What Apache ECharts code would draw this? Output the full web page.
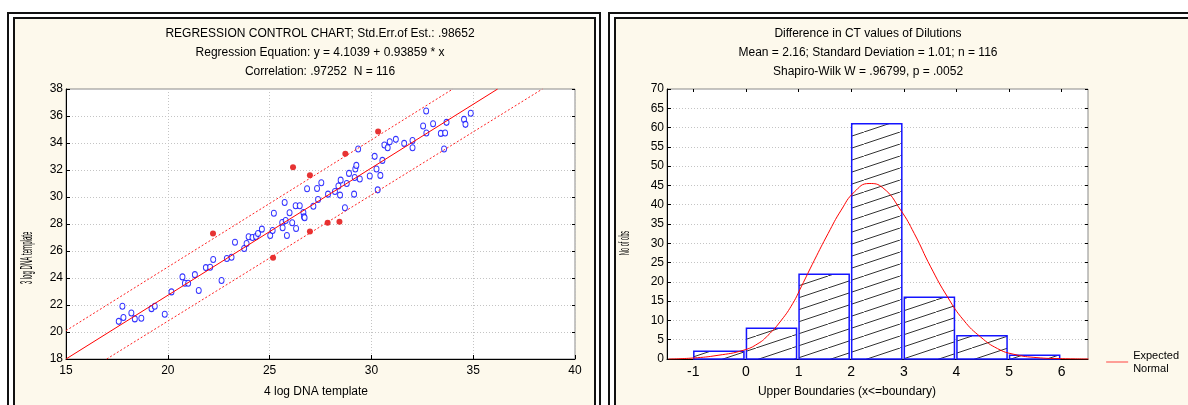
<!DOCTYPE html>
<html>
<head>
<meta charset="utf-8">
<script src="https://cdn.jsdelivr.net/npm/echarts@6/dist/echarts.min.js"></script>
<style>
  html, body { margin: 0; padding: 0; background: #fff; }
  #chart { width: 1188px; height: 405px; }
</style>
</head>
<body>
<div id="chart"></div>
<script>
// regression control chart: observed pairs (4 log template, 3 log template)
const blueObs = [
  [17.59, 20.79], [17.77, 21.91], [17.82, 21.07], [18.21, 21.41], [18.38, 20.97],
  [18.70, 21.02], [19.20, 21.73], [19.36, 21.91], [19.85, 21.31], [20.18, 22.97],
  [20.72, 24.08], [20.84, 23.61], [21.00, 23.61], [21.33, 24.25], [21.52, 23.07],
  [21.87, 24.77], [22.08, 24.80], [22.23, 25.37], [22.64, 23.81], [22.90, 25.44],
  [23.13, 25.54], [23.30, 26.65], [23.75, 26.18], [23.87, 26.55], [23.97, 27.05],
  [24.16, 27.00], [24.33, 27.07], [24.43, 27.30], [24.62, 27.62], [25.03, 27.15],
  [25.15, 27.52], [25.21, 28.80], [25.62, 28.11], [25.64, 27.72], [25.74, 29.59],
  [25.79, 28.26], [25.85, 27.15], [25.98, 28.83], [26.11, 28.09], [26.28, 29.35],
  [26.30, 27.67], [26.48, 29.35], [26.66, 28.85], [26.69, 28.53], [26.72, 28.46],
  [26.84, 30.61], [27.15, 29.32], [27.33, 30.63], [27.38, 29.82], [27.54, 31.05],
  [27.87, 30.21], [28.21, 30.41], [28.38, 30.81], [28.46, 30.14], [28.49, 31.25],
  [28.70, 29.20], [28.79, 31.00], [28.90, 31.75], [29.15, 30.21], [29.18, 31.45],
  [29.21, 32.07], [29.26, 32.34], [29.35, 33.55], [29.43, 31.33], [29.92, 31.55],
  [30.16, 33.01], [30.25, 32.07], [30.31, 30.53], [30.44, 31.60], [30.54, 32.71],
  [30.64, 33.85], [30.80, 33.65], [30.90, 34.09], [31.20, 34.27], [31.61, 33.97],
  [32.02, 34.19], [32.02, 33.65], [32.54, 35.26], [32.69, 36.37], [32.70, 34.74],
  [33.03, 35.43], [33.41, 34.71], [33.57, 33.55], [33.62, 34.74], [33.69, 35.53],
  [34.55, 35.75], [34.62, 35.38], [34.88, 36.20]
];
// points outside the control limits
const redObs = [
  [22.22, 27.30], [25.17, 25.50], [26.15, 32.21], [26.98, 31.62], [28.72, 33.20],
  [30.33, 34.86], [26.98, 27.44], [27.85, 28.09], [28.43, 28.16]
];
const regLine = [[15, 18.0], [36.2, 38]];
const upperLimit = [[15, 20.1], [34.0, 38]];
const lowerLimit = [[17.0, 18], [38.4, 38]];

// histogram of CT differences
const binStarts = [-1, 0, 1, 2, 3, 4, 5];
const binCounts = [2, 8, 22, 61, 16, 6, 1];
const boundaryTicks = [-1, 0, 1, 2, 3, 4, 5, 6];
const expectedNormal = [
  [-1.47, 0], [-1.0, 0.26], [-0.53, 0.96], [-0.05, 2.26], [0.23, 4.0], [0.42, 6.15],
  [0.67, 10.0], [0.89, 14.4], [1.05, 18.7], [1.30, 25.6], [1.56, 32.5], [1.81, 38.6],
  [2.06, 43.3], [2.34, 45.5], [2.60, 44.4], [2.94, 38.6], [3.20, 32.5], [3.51, 23.9],
  [3.83, 16.1], [4.14, 10.0], [4.46, 5.7], [4.78, 2.7], [5.09, 1.22], [5.53, 0.36],
  [5.97, 0.1], [6.51, 0]
];

const leftTitle = 'REGRESSION CONTROL CHART; Std.Err.of Est.: .98652\nRegression Equation: y = 4.1039 + 0.93859 * x\nCorrelation: .97252  N = 116';
const rightTitle = 'Difference in CT values of Dilutions\nMean = 2.16; Standard Deviation = 1.01; n = 116\nShapiro-Wilk W = .96799, p = .0052';

const FONT = "'Liberation Sans', Arial, sans-serif";
const cream = '#fdf9ec';

// hatch pattern for the bars
const hatch = document.createElement('canvas');
hatch.width = 36;
hatch.height = 12;
const hctx = hatch.getContext('2d');
hctx.fillStyle = '#fff';
hctx.fillRect(0, 0, 36, 12);
hctx.strokeStyle = '#333';
hctx.lineWidth = 1;
hctx.beginPath();
hctx.moveTo(-36, 24); hctx.lineTo(72, -12);
hctx.stroke();

const chart = echarts.init(document.getElementById('chart'));

const tickLabel = { color: '#000', fontSize: 12, fontFamily: FONT };
const dotted = { show: true, lineStyle: { color: '#c4c4c4', type: [1, 2], width: 1 } };
const blackLine = { show: true, onZero: false, lineStyle: { color: '#000' } };

function frame(x, y, w, h) {
  return [
    { type: 'rect', z: -10, shape: { x: x, y: y, width: w, height: h },
      style: { fill: '#fff', stroke: '#111', lineWidth: 2 } },
    { type: 'rect', z: -9, shape: { x: x + 6, y: y + 5, width: w - 11, height: h - 11 },
      style: { fill: cream, stroke: '#111', lineWidth: 2 } }
  ];
}

chart.setOption({
  animation: false,
  backgroundColor: '#fff',
  graphic: [
    ...frame(8, 13, 592, 400),
    ...frame(609, 13, 620, 400),
    { type: 'text', x: 320, y: 24, style: { text: leftTitle, align: 'center', verticalAlign: 'top',
      lineHeight: 19, fontSize: 12, fontFamily: FONT, fill: '#000' } },
    { type: 'text', x: 868, y: 24, style: { text: rightTitle, align: 'center', verticalAlign: 'top',
      lineHeight: 19, fontSize: 12, fontFamily: FONT, fill: '#000' } },
    { type: 'text', x: 316, y: 386, style: { text: '4 log DNA template', align: 'center', verticalAlign: 'top',
      fontSize: 12, fontFamily: FONT, fill: '#000' } },
    { type: 'text', x: 847, y: 386, style: { text: 'Upper Boundaries (x<=boundary)', align: 'center', verticalAlign: 'top',
      fontSize: 12, fontFamily: FONT, fill: '#000' } },
    { type: 'text', x: 28, y: 258, rotation: Math.PI / 2, scaleX: 0.38,
      style: { text: '3 log DNA template', align: 'center', verticalAlign: 'middle',
      fontSize: 16, fontFamily: FONT, fill: '#000' } },
    { type: 'text', x: 625, y: 243, rotation: Math.PI / 2, scaleX: 0.38,
      style: { text: 'No of obs', align: 'center', verticalAlign: 'middle',
      fontSize: 15, fontFamily: FONT, fill: '#000' } }
  ],
  legend: {
    right: 4, top: 344, orient: 'vertical',
    data: [{ name: 'Expected Normal', icon: 'path://M0,0H30V1H0Z' }],
    itemWidth: 22, itemHeight: 1, itemGap: 4,
    formatter: () => 'Expected\nNormal',
    textStyle: { color: '#000', fontSize: 11, fontFamily: FONT, lineHeight: 13 }
  },
  grid: [
    { left: 66, top: 89, width: 509, height: 270, show: true, backgroundColor: '#fff',
      borderColor: '#8a8a8a', borderWidth: 1, outerBoundsMode: 'none' },
    { left: 667, top: 89, width: 421, height: 270, show: true, backgroundColor: '#fff',
      borderColor: '#8a8a8a', borderWidth: 1, outerBoundsMode: 'none' }
  ],
  xAxis: [
    { type: 'value', gridIndex: 0, min: 15, max: 40, interval: 5,
      axisLine: blackLine,
      axisTick: { show: true, inside: true, length: 4, lineStyle: { color: '#000' } },
      axisLabel: { ...tickLabel, margin: 6 }, splitLine: dotted },
    { type: 'value', gridIndex: 1, min: -1.5, max: 6.5, interval: 0.5,
      axisLine: blackLine,
      axisTick: { show: false },
      axisLabel: { ...tickLabel, fontSize: 14, margin: 6, customValues: boundaryTicks,
        formatter: v => (Number.isInteger(v) ? String(v) : '') },
      splitLine: { show: false } },
    { type: 'value', gridIndex: 1, position: 'top', min: -1.5, max: 6.5, interval: 0.5,
      axisLine: { show: false, onZero: false }, axisLabel: { show: false }, splitLine: { show: false },
      axisTick: { show: true, inside: true, length: 3, customValues: boundaryTicks,
        lineStyle: { color: '#000' } } }
  ],
  yAxis: [
    { type: 'value', gridIndex: 0, min: 18, max: 38, interval: 2,
      axisLine: blackLine,
      axisTick: { show: true, inside: true, length: 4, lineStyle: { color: '#000' } },
      axisLabel: { ...tickLabel, margin: 3 }, splitLine: dotted },
    { type: 'value', gridIndex: 0, position: 'right', min: 18, max: 38, interval: 2,
      axisLine: { show: false, onZero: false }, axisLabel: { show: false }, splitLine: { show: false },
      axisTick: { show: true, inside: true, length: 3, lineStyle: { color: '#000' } } },
    { type: 'value', gridIndex: 1, min: 0, max: 70, interval: 5,
      axisLine: blackLine,
      axisTick: { show: true, inside: true, length: 4, lineStyle: { color: '#000' } },
      axisLabel: { ...tickLabel, margin: 3 }, splitLine: dotted },
    { type: 'value', gridIndex: 1, position: 'right', min: 0, max: 70, interval: 5,
      axisLine: { show: false, onZero: false }, axisLabel: { show: false }, splitLine: { show: false },
      axisTick: { show: true, inside: true, length: 3, lineStyle: { color: '#000' } } }
  ],
  series: [
    { type: 'line', xAxisIndex: 0, yAxisIndex: 0, data: upperLimit, showSymbol: false, silent: true,
      lineStyle: { color: '#ff2020', width: 1, type: [2, 2] } },
    { type: 'line', xAxisIndex: 0, yAxisIndex: 0, data: lowerLimit, showSymbol: false, silent: true,
      lineStyle: { color: '#ff2020', width: 1, type: [2, 2] } },
    { type: 'line', xAxisIndex: 0, yAxisIndex: 0, data: regLine, showSymbol: false, silent: true,
      lineStyle: { color: '#ff0000', width: 1 } },
    { type: 'scatter', xAxisIndex: 0, yAxisIndex: 0, data: blueObs, symbol: 'circle', symbolSize: [5, 6],
      itemStyle: { color: '#fff', borderColor: '#0000ff', borderWidth: 1 } },
    { type: 'scatter', xAxisIndex: 0, yAxisIndex: 0, data: redObs, symbol: 'circle', symbolSize: 6,
      itemStyle: { color: '#e00000' } },
    {
      type: 'custom', xAxisIndex: 1, yAxisIndex: 2,
      data: binStarts.map((s, i) => [s, binCounts[i]]),
      encode: { x: 0, y: 1 },
      renderItem: (params, api) => {
        const start = api.value(0);
        const topLeft = api.coord([start, api.value(1)]);
        const bottomRight = api.coord([start + 1, 0]);
        return {
          type: 'rect',
          shape: { x: topLeft[0] + 0.5, y: topLeft[1], width: bottomRight[0] - topLeft[0] - 2.5,
            height: bottomRight[1] - topLeft[1] },
          style: { fill: { image: hatch, repeat: 'repeat' }, stroke: '#1414ff', lineWidth: 1.5 }
        };
      }
    },
    { name: 'Expected Normal', type: 'line', xAxisIndex: 1, yAxisIndex: 2, data: expectedNormal,
      smooth: true, showSymbol: false, z: 5,
      lineStyle: { color: '#ff0000', width: 1 }, itemStyle: { color: '#ff0000' } }
  ]
});
</script>
</body>
</html>
